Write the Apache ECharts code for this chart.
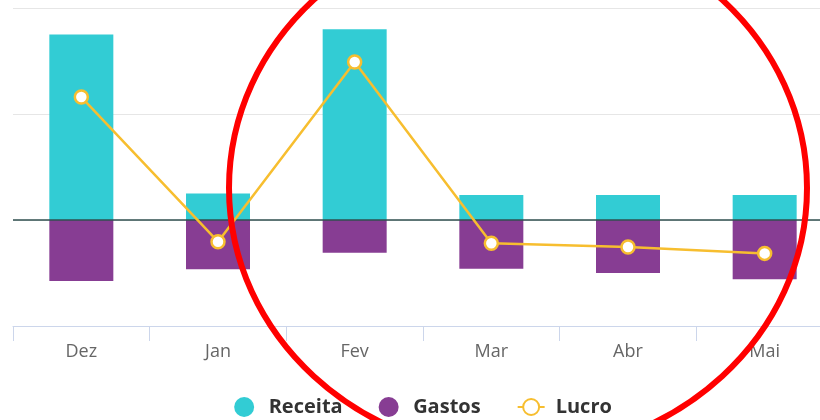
<!DOCTYPE html>
<html>
<head>
<meta charset="utf-8">
<script src="https://cdn.jsdelivr.net/npm/echarts@6/dist/echarts.min.js"></script>
<style>html,body{margin:0;padding:0;background:#fff;overflow:hidden;width:820px;height:420px}#c{width:846px;height:420px}</style>
</head>
<body>
<div id="c"></div>
<script>
const categories = ['Dez', 'Jan', 'Fev', 'Mar', 'Abr', 'Mai'];
const receita = [175, 25, 180, 23.5, 23.5, 23.5];
const gastos = [-57.5, -46.5, -31, -46, -50, -56];
const lucro = [116, -20.5, 149, -22, -25.5, -31.5];

const chart = echarts.init(document.getElementById('c'), null, {renderer: 'canvas'});
const font = '"Open Sans", "Noto Sans", sans-serif';
chart.setOption({
  animation: false,
  textStyle: {fontFamily: font},
  grid: {left: 13, top: 8, right: 13, bottom: 94, containLabel: false},
  legend: {
    bottom: -2,
    left: 'center',
    itemGap: 36,
    itemWidth: 27,
    itemHeight: 20,
    textStyle: {fontFamily: font, fontSize: 20, fontWeight: 'bold', color: '#333', padding: [0, 0, 0, 6]},
    data: [
      {name: 'Receita', icon: 'circle'},
      {name: 'Gastos', icon: 'circle'},
      {name: 'Lucro'}
    ]
  },
  xAxis: {
    type: 'category',
    data: categories,
    axisLine: {onZero: false, lineStyle: {color: '#ccd6eb', width: 1}},
    axisTick: {show: true, length: 15, lineStyle: {color: '#ccd6eb'}},
    axisLabel: {color: '#666', fontSize: 18, fontFamily: font, margin: 17}
  },
  yAxis: {
    type: 'value',
    min: -100, max: 200, interval: 100,
    axisLabel: {show: false},
    axisLine: {show: false},
    axisTick: {show: false},
    splitLine: {show: true, lineStyle: {color: '#e6e6e6', width: 1}}
  },
  series: [
    {
      name: 'Receita', type: 'bar', stack: 'total', data: receita,
      barWidth: 64,
      itemStyle: {color: '#32ccd4'}
    },
    {
      name: 'Gastos', type: 'bar', stack: 'total', data: gastos,
      barWidth: 64,
      itemStyle: {color: '#873d93'},
      markLine: {
        silent: true, symbol: 'none', label: {show: false},
        lineStyle: {color: '#2f4f4f', width: 1.5, type: 'solid'},
        data: [{yAxis: 0}]
      }
    },
    {
      name: 'Lucro', type: 'line', data: lucro,
      symbol: 'circle', symbolSize: 13,
      lineStyle: {color: '#f7be2f', width: 2.5},
      itemStyle: {color: '#fff', borderColor: '#f7be2f', borderWidth: 2.5},
      z: 5
    }
  ],
  graphic: [{
    type: 'ellipse',
    shape: {cx: 518, cy: 188, rx: 289, ry: 266},
    style: {fill: 'none', stroke: '#ff0000', lineWidth: 6},
    z: 100, silent: true
  }]
});
</script>
</body>
</html>
